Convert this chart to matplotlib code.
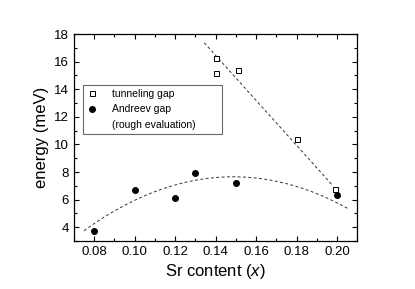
import numpy as np
import matplotlib
matplotlib.use("Agg")
import matplotlib.pyplot as plt
from matplotlib.ticker import MultipleLocator, FormatStrFormatter

plt.rcParams['font.family'] = ['Liberation Sans', 'DejaVu Sans']
plt.rcParams['mathtext.fontset'] = 'custom'
plt.rcParams['mathtext.it'] = 'Liberation Sans:italic'
plt.rcParams['mathtext.rm'] = 'Liberation Sans'

# tunneling gap (open squares)
tun_x = [0.140, 0.140, 0.151, 0.180, 0.199]
tun_y = [16.3, 15.15, 15.4, 10.4, 6.8]
# Andreev gap (filled circles)
and_x = [0.08, 0.10, 0.12, 0.13, 0.15, 0.20]
and_y = [3.7, 6.7, 6.1, 7.9, 7.2, 6.35]

# dashed guide lines
lin_x = [0.1344, 0.198]
lin_y = [17.37, 7.0]
par_x = [0.075, 0.146, 0.206]
par_y = [3.75, 7.65, 5.3]

fig, ax = plt.subplots(figsize=(4.15, 2.89), dpi=100)
fig.subplots_adjust(left=0.178, right=0.861, top=0.882, bottom=0.166)

dash = (0, (3, 2.5))
ax.plot(lin_x, lin_y, linestyle=dash, color='#333333', linewidth=0.7)
c = np.polyfit(par_x, par_y, 2)
xx = np.linspace(par_x[0], par_x[-1], 100)
ax.plot(xx, np.polyval(c, xx), linestyle=dash, color='#333333', linewidth=0.7)

ax.plot(tun_x, tun_y, linestyle='none', marker='s', markersize=3.6,
        markerfacecolor='white', markeredgecolor='black', markeredgewidth=0.7,
        label='tunneling gap')
ax.plot(and_x, and_y, linestyle='none', marker='o', markersize=4,
        color='black', label='Andreev gap')
ax.plot([], [], linestyle='none', label='(rough evaluation)')

ax.set_xlim(0.07, 0.21)
ax.set_ylim(3, 18)
ax.xaxis.set_major_locator(MultipleLocator(0.02))
ax.xaxis.set_minor_locator(MultipleLocator(0.01))
ax.yaxis.set_major_locator(MultipleLocator(2))
ax.yaxis.set_minor_locator(MultipleLocator(1))
ax.xaxis.set_major_formatter(FormatStrFormatter('%.2f'))
ax.tick_params(which='both', direction='in', top=True, right=True, labelsize=9.5, width=0.8)
ax.tick_params(which='major', length=3.5)
ax.tick_params(which='minor', length=2)
for s in ax.spines.values():
    s.set_linewidth(0.9)

ax.set_xlabel('Sr content ($\\mathit{x}$)', fontsize=12, labelpad=3)
ax.set_ylabel('energy (meV)', fontsize=12, labelpad=4)

leg = ax.legend(loc='upper left', bbox_to_anchor=(0.032, 0.754, 0.49, 0.0),
                mode='expand', fontsize=7.5,
                frameon=True, fancybox=False, edgecolor='#444444',
                handlelength=1.0, handletextpad=1.4, borderpad=0.35,
                labelspacing=0.55, borderaxespad=0)
leg.get_frame().set_linewidth(0.8)

plt.savefig('out.png')
plt.close()
